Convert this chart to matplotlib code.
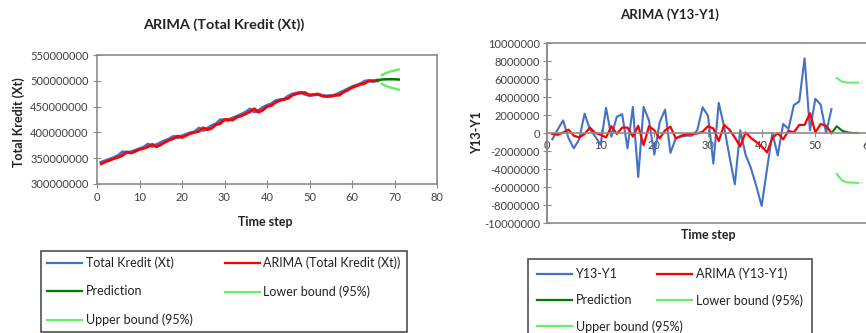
import matplotlib
matplotlib.use('Agg')
import matplotlib.pyplot as plt
from matplotlib.lines import Line2D
from matplotlib.patches import Rectangle

plt.rcParams['font.family'] = ['Lato', 'DejaVu Sans']

# ---- left chart: Total Kredit (Xt), values in millions ----
t_left = list(range(1, 67))
kredit = [342, 345, 348, 351, 355, 362, 361, 362, 365, 368,
          371, 377, 373, 376, 380, 384, 387, 392, 390, 393,
          396, 399, 401, 408, 404, 408, 413, 416, 424, 424,
          424, 428, 431, 435, 439, 445, 440, 442, 448, 452,
          455, 461, 463, 464, 470, 474, 476, 477, 474, 472,
          473, 474, 471, 470, 471, 472, 476, 480, 484, 488,
          491, 494, 499, 500, 499, 501]
arima_kredit = [339, 343, 346, 349, 352, 355, 362, 360, 363, 367,
                369, 372, 377, 372, 376, 381, 385, 388, 393, 390,
                394, 398, 400, 402, 409, 405, 408, 415, 417, 425,
                425, 424, 430, 432, 436, 440, 446, 439, 443, 450,
                452, 458, 462, 464, 466, 472, 475, 477, 477, 472,
                473, 474, 471, 470, 470, 472, 472, 478, 482, 487,
                490, 493, 495, 500, 500, 500]
t_pred_left = [66, 67, 68, 69, 70, 71]
pred_left = [500.5, 502.5, 503, 503, 503, 502.5]
t_bound_left = [67, 68, 69, 70, 71]
lower_left = [494, 490, 487, 485, 483]
upper_left = [511, 515, 518, 520, 522]

# ---- right chart: Y13-Y1, values in millions ----
t_right = list(range(1, 54))
diff = [-0.7, 0.4, 1.4, -0.55, -1.7, -0.7, 2.15, 0.4, -0.4, -1.3,
        2.8, -0.4, 1.8, 2.1, -1.7, 2.9, -4.9, 2.9, 1.4, -2.4,
        1.2, 2.6, -2.2, -0.6, -0.4, -0.3, -0.3, 0.3, 2.85, 1.9,
        -3.4, 3.35, 0.7, -2.6, -5.7, 0.3, -2.4, -3.9, -5.9, -8.1,
        -4.0, 0.0, -2.5, 1.0, 0.45, 3.1, 3.5, 8.3, 0.3, 3.8,
        3.15, 0.0, 2.65]
arima_diff = [-0.1, -0.2, 0.05, 0.37, -0.3, -0.5, -0.1, 0.6, 0.0, -0.2,
              -0.5, 0.75, -0.1, 0.6, 0.6, -0.4, 0.8, -1.35, 0.75, 0.3,
              -0.6, 0.3, 0.7, -0.6, -0.3, -0.15, -0.1, -0.05, 0.15, 0.75,
              0.5, -0.9, 0.9, 0.37, -0.5, -1.5, 0.07, -0.55, -1.0, -1.5,
              -2.15, -0.55, 0.0, -0.7, 0.25, 0.07, 0.9, 0.9, 2.2, 0.07,
              1.0, 0.8, 0.0]
t_pred_right = [53, 54, 55, 56, 57, 58]
pred_right = [0.0, 0.75, 0.25, 0.07, 0.0, 0.0]
t_bound_right = [54, 55, 56, 57, 58]
lower_right = [-4.55, -5.3, -5.5, -5.5, -5.55]
upper_right = [6.1, 5.7, 5.6, 5.6, 5.6]

BLUE = '#4472C4'
RED = '#FF0000'
DGREEN = '#007A00'
LGREEN = '#66F066'
GRAY = '#8C8C8C'
TXT = '#404040'

fig = plt.figure(figsize=(8.66, 3.33), dpi=100)

# ---------------- left ----------------
ax1 = fig.add_axes([97 / 866, 1 - 184 / 333, 340 / 866, 129 / 333])
M = 1e6
ax1.plot(t_left, [v * M for v in kredit], color=BLUE, lw=2.4)
ax1.plot(t_left, [v * M for v in arima_kredit], color=RED, lw=2.0)
ax1.plot(t_pred_left, [v * M for v in pred_left], color=DGREEN, lw=1.8)
ax1.plot(t_bound_left, [v * M for v in lower_left], color=LGREEN, lw=1.8)
ax1.plot(t_bound_left, [v * M for v in upper_left], color=LGREEN, lw=1.8)
ax1.set_xlim(0, 80)
ax1.set_ylim(300e6, 550e6)
ax1.set_xticks(range(0, 81, 10))
ax1.set_yticks([300e6, 350e6, 400e6, 450e6, 500e6, 550e6])
ax1.set_yticklabels(['300000000', '350000000', '400000000', '450000000',
                     '500000000', '550000000'])
for s in ax1.spines.values():
    s.set_color(GRAY)
    s.set_linewidth(1.2)
ax1.tick_params(direction='inout', length=6, color=GRAY, labelsize=8,
                labelcolor=TXT, pad=3)

fig.text(224 / 866, 1 - 25 / 333, 'ARIMA (Total Kredit (Xt))', ha='center',
         va='center', fontsize=10.4, fontweight='bold', color='#222222')
fig.text(19 / 866, 1 - 122 / 333, 'Total Kredit (Xt)', ha='center', va='center',
         rotation=90, fontsize=9, fontweight='bold', color='#222222')
fig.text(265 / 866, 1 - 222 / 333, 'Time step', ha='center', va='center',
         fontsize=9, fontweight='bold', color='#222222')

# ---------------- right ----------------
ax2 = fig.add_axes([547 / 866, 1 - 223 / 333, 322 / 866, 180 / 333])
ax2.plot(t_right, [v * M for v in diff], color=BLUE, lw=1.5)
ax2.plot(t_right, [v * M for v in arima_diff], color=RED, lw=1.6)
ax2.plot(t_pred_right, [v * M for v in pred_right], color=DGREEN, lw=1.5)
ax2.plot(t_bound_right, [v * M for v in lower_right], color=LGREEN, lw=1.5)
ax2.plot(t_bound_right, [v * M for v in upper_right], color=LGREEN, lw=1.5)
ax2.set_xlim(0, 60)
ax2.set_ylim(-10e6, 10e6)
ax2.set_xticks(range(0, 61, 10))
yt = list(range(-10, 11, 2))
ax2.set_yticks([v * M for v in yt])
ax2.set_yticklabels([str(v * 1000000) for v in yt])
ax2.spines['bottom'].set_position(('data', 0))
ax2.spines['top'].set_visible(False)
ax2.spines['right'].set_visible(False)
for s in ax2.spines.values():
    s.set_color(GRAY)
    s.set_linewidth(1.2)
ax2.add_patch(Rectangle((0, 0), 1, 1, transform=ax2.transAxes, fill=False,
                        edgecolor=GRAY, lw=1.2, clip_on=False))
ax2.tick_params(direction='inout', length=6, color=GRAY, labelsize=8,
                labelcolor=TXT, pad=2)

fig.text(670 / 866, 1 - 15 / 333, 'ARIMA (Y13-Y1)', ha='center', va='center',
         fontsize=9.5, fontweight='bold', color='#222222')
fig.text(477 / 866, 1 - 133 / 333, 'Y13-Y1', ha='center', va='center',
         rotation=90, fontsize=9, fontweight='bold', color='#222222')
fig.text(708 / 866, 1 - 235 / 333, 'Time step', ha='center', va='center',
         fontsize=9, fontweight='bold', color='#222222')


# ---------------- legends ----------------
def make_legend(x0, y0, w, labels, spacing, pad):
    cols = [BLUE, RED, DGREEN, LGREEN, LGREEN]
    hs = [Line2D([], [], color=c, lw=1.6) for c in cols]
    order = [0, 2, 4, 1, 3]
    leg = fig.legend([hs[i] for i in order], [labels[i] for i in order],
                     loc='upper left', bbox_to_anchor=(x0 / 866, 1 - y0 / 333, w / 866, 0.01),
                     mode='expand', ncol=2, fontsize=9, frameon=True,
                     fancybox=False, edgecolor='#222222', handlelength=2.8,
                     handletextpad=0.3, labelspacing=spacing, borderpad=pad,
                     borderaxespad=0)
    leg.get_frame().set_linewidth(1.2)
    for txt in leg.get_texts():
        txt.set_color('#222222')
    return leg


make_legend(41, 254, 366, ['Total Kredit (Xt)', 'ARIMA (Total Kredit (Xt))', 'Prediction',
                           'Lower bound (95%)', 'Upper bound (95%)'], 1.28, 0.5)
make_legend(528, 262, 284, ['Y13-Y1', 'ARIMA (Y13-Y1)', 'Prediction',
                            'Lower bound (95%)', 'Upper bound (95%)'], 1.12, 0.7)

fig.savefig('out.png', dpi=100)
